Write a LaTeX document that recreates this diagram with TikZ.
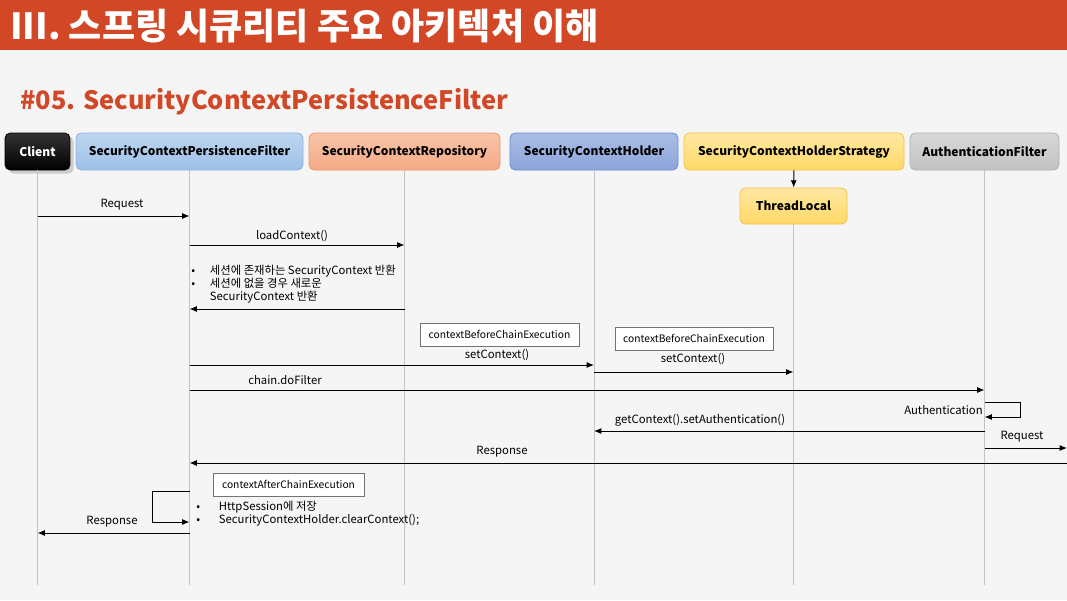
\documentclass[tikz,border=0pt]{standalone}
\usepackage{fontspec}
\setmainfont{Noto Sans CJK KR}
\usetikzlibrary{arrows.meta,shadows}

\definecolor{titlered}{HTML}{D24726}
\definecolor{bggray}{HTML}{F5F5F5}
\definecolor{lifegray}{HTML}{C4C4C4}

\begin{document}
\begin{tikzpicture}[x=0.75pt, y=-0.75pt, >={Latex[length=5.5pt,width=4.5pt]},
	actor/.style={draw, rounded corners=4pt, minimum height=27.75pt, line width=0.6pt, font=\fontsize{9}{11}\selectfont\bfseries},
	life/.style={draw=lifegray, line width=0.75pt},
	msg/.style={->, line width=0.75pt},
	lbl/.style={font=\fontsize{8.5}{10}\selectfont, inner sep=0pt},
	memo/.style={draw=black!55, fill=white, minimum height=17.25pt, line width=0.5pt, font=\fontsize{7.7}{9}\selectfont}]
	\useasboundingbox (0,0) rectangle (1067,600);
	\fill[bggray] (0,0) rectangle (1067,600);
	\fill[titlered] (0,0) rectangle (1067,50);
	\node[anchor=west, inner sep=0pt, text=white, font=\fontsize{27}{30}\selectfont\bfseries] (title) at (10,26) {III. 스프링 시큐리티 주요 아키텍처 이해};
	\node[anchor=west, inner sep=0pt, text=titlered, font=\fontsize{19}{22}\selectfont\bfseries] (subtitle) at (20,102) {\#05. SecurityContextPersistenceFilter};
	
	% participants
	\node[actor, draw=black, top color=black!80, bottom color=black, text=white, drop shadow={opacity=0.35}, minimum width=48.75pt] (client) at (37.5,151.5) {Client};
	\node[actor, draw={rgb,255:red,141;green,179;blue,226}, top color={rgb,255:red,190;green,214;blue,240}, bottom color={rgb,255:red,157;green,192;blue,232}, minimum width=170.25pt] (scpf) at (189.5,151.5) {SecurityContextPersistenceFilter};
	\node[actor, draw={rgb,255:red,236;green,152;blue,110}, top color={rgb,255:red,249;green,196;blue,168}, bottom color={rgb,255:red,244;green,170;blue,134}, minimum width=143.25pt] (scr) at (404.5,151.5) {SecurityContextRepository};
	\node[actor, draw={rgb,255:red,108;green,140;blue,207}, top color={rgb,255:red,170;green,189;blue,230}, bottom color={rgb,255:red,141;green,165;blue,218}, minimum width=126pt] (sch) at (594,151.5) {SecurityContextHolder};
	\node[actor, draw={rgb,255:red,244;green,194;blue,66}, top color={rgb,255:red,255;green,232;blue,163}, bottom color={rgb,255:red,255;green,216;blue,102}, minimum width=165pt] (strategy) at (794,151.5) {SecurityContextHolderStrategy};
	\node[actor, draw={rgb,255:red,176;green,176;blue,176}, top color={rgb,255:red,216;green,216;blue,216}, bottom color={rgb,255:red,194;green,194;blue,194}, minimum width=111.75pt] (auth) at (984.5,151.5) {AuthenticationFilter};
	\node[actor, draw={rgb,255:red,244;green,194;blue,66}, top color={rgb,255:red,255;green,232;blue,163}, bottom color={rgb,255:red,255;green,216;blue,102}, minimum width=80.25pt, minimum height=27pt] (tlocal) at (793.5,206) {ThreadLocal};
	\draw[msg] (strategy) -- (tlocal);
	
	% lifelines
	\coordinate (bottom) at (0,585);
	\coordinate (edge) at (1067,0);
	\draw[life] (client.south) -- (client |- bottom);
	\draw[life] (scpf.south) -- (scpf |- bottom);
	\draw[life] (scr.south) -- (scr |- bottom);
	\draw[life] (sch.south) -- (sch |- bottom);
	\draw[life] (tlocal.south) -- (tlocal |- bottom);
	\draw[life] (auth.south) -- (auth |- bottom);
	
	% messages
	\draw[msg] (client |- 0,216) -- (scpf |- 0,216);
	\node[lbl] (lreq) at (122,205) {Request};
	\draw[msg] (scpf |- 0,245) -- (scr |- 0,245);
	\node[lbl] (lload) at (292,236) {loadContext()};
	\node[lbl, anchor=north west, align=left] (lfound) at (191,264.5) {\begin{tabular}{@{}p{14pt}@{}l@{}}•&세션에 존재하는 SecurityContext 반환\\ •&세션에 없을 경우 새로운\\ &SecurityContext 반환\end{tabular}};
	\draw[msg] (scr |- 0,309) -- (scpf |- 0,309);
	
	\node[memo, minimum width=119.25pt] (before1) at (499.5,334.5) {contextBeforeChainExecution};
	\node[lbl] (lset1) at (497,355) {setContext()};
	\draw[msg] (scpf |- 0,365) -- (sch |- 0,365);
	\node[memo, minimum width=118.5pt] (before2) at (694,338.5) {contextBeforeChainExecution};
	\node[lbl] (lset2) at (693,359) {setContext()};
	\draw[msg] (sch |- 0,372) -- (tlocal |- 0,372);
	
	\draw[msg] (scpf |- 0,390) -- (auth |- 0,390);
	\node[lbl] (lchain) at (285,380) {chain.doFilter};
	\draw[msg] (auth |- 0,402) -- ++(36,0) -- ++(0,15) -- (auth |- 0,417);
	\node[lbl, anchor=east] (lauth) at (983,410) {Authentication};
	\draw[msg] (auth |- 0,431) -- (sch |- 0,431);
	\node[lbl] (lget) at (700,420) {getContext().setAuthentication()};
	\draw[msg] (auth |- 0,448) -- (edge |- 0,448);
	\node[lbl] (lreq2) at (1022,437) {Request};
	\draw[msg] (edge |- 0,463) -- (scpf |- 0,463);
	\node[lbl] (lresp) at (502,452) {Response};
	
	\node[memo, minimum width=113.25pt] (after) at (288.5,484.5) {contextAfterChainExecution};
	\draw[msg] (scpf |- 0,491) -- ++(-37,0) -- ++(0,31) -- (scpf |- 0,522);
	\node[lbl, anchor=west, align=left] (lsave) at (196,514.5) {\begin{tabular}{@{}p{17pt}@{}l@{}}•&HttpSession에 저장\\ •&SecurityContextHolder.clearContext();\end{tabular}};
	\draw[msg] (scpf |- 0,533) -- (client |- 0,533);
	\node[lbl] (lresp2) at (112,522) {Response};
\end{tikzpicture}
\end{document}
